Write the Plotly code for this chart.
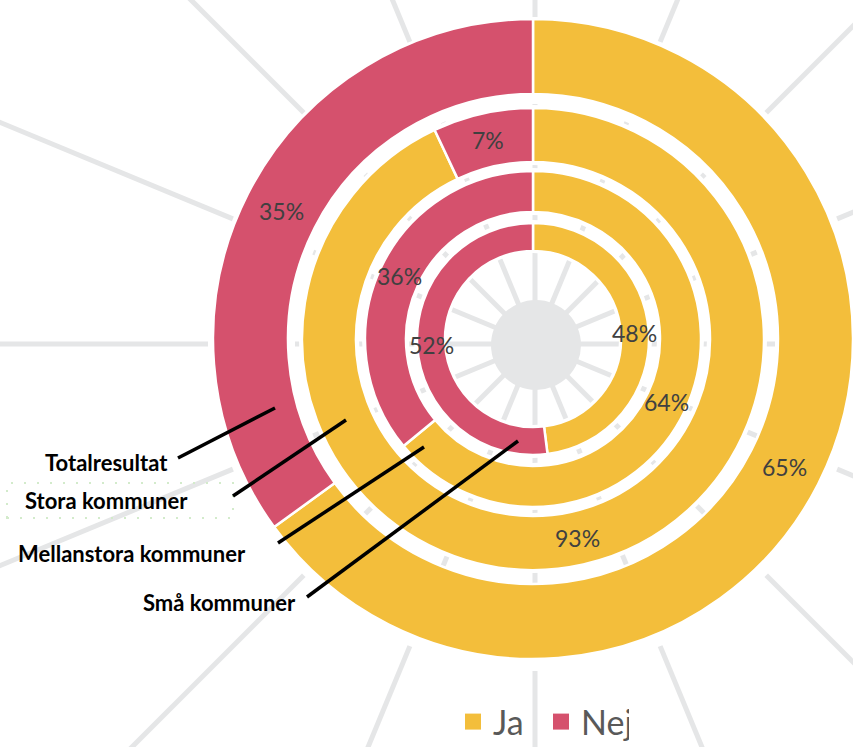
import numpy as np
import plotly.graph_objects as go

# ---- data ----
rings = ["Totalresultat", "Stora kommuner", "Mellanstora kommuner", "Små kommuner"]
categories = ["Ja", "Nej"]
ja = [65, 93, 64, 48]
nej = [35, 7, 36, 52]

# ---- style / geometry ----
W, H = 853, 747
YELLOW = "#F3BE3B"
PINK = "#D5516D"
SPOKE = "#E5E6E7"
TXT = "#404040"
FONT = "Lato"

cx, cy = 533, 339          # ring centre (px)
sx, sy = 535, 344          # spoke centre (px)
r_out = [320, 231, 168, 116]
r_in = [245, 177, 127, 88]
pad_out = [0, 3, 3, 3]
pad_in = [0, 3, 3, 2]


def px(x, y):
    return x / W, 1 - y / H


def dom(r):
    return dict(x=[(cx - r) / W, (cx + r) / W], y=[1 - (cy + r) / H, 1 - (cy - r) / H])


fig = go.Figure()

# white halos under the inner rings (creates the gaps over the spokes)
for i in range(1, 4):
    ro = r_out[i] + pad_out[i]
    ri = r_in[i] - pad_in[i]
    fig.add_trace(go.Pie(values=[1], labels=["halo"], marker=dict(colors=["white"]),
                         hole=ri / ro, domain=dom(ro), sort=False, textinfo="none",
                         hoverinfo="skip", showlegend=False))

# coloured rings
for i, name in enumerate(rings):
    fig.add_trace(go.Pie(
        name=name, labels=categories, values=[ja[i], nej[i]],
        marker=dict(colors=[YELLOW, PINK], line=dict(color="white", width=2.5)),
        hole=r_in[i] / r_out[i], domain=dom(r_out[i]),
        sort=False, direction="clockwise", rotation=0,
        textinfo="none", showlegend=False))

# percentage labels at slice mid-angle / ring mid-radius
annotations = []
for i in range(4):
    vals = [ja[i], nej[i]]
    tot = sum(vals)
    start = 0.0
    rm = (r_out[i] + r_in[i]) / 2
    for v in vals:
        mid = (start + v / 2) / tot * 2 * np.pi
        start += v
        x, y = px(cx + rm * np.sin(mid), cy - rm * np.cos(mid))
        annotations.append(dict(x=x, y=y, xref="paper", yref="paper", text=f"{v}%",
                                xanchor="center", yanchor="middle", showarrow=False,
                                font=dict(family=FONT, size=23, color=TXT)))

# ring name labels
lab_pos = [(170, 462), (190, 500), (248, 553), (298, 602)]
for name, (lx, ly) in zip(rings, lab_pos):
    x, y = px(lx, ly)
    annotations.append(dict(x=x, y=y, xref="paper", yref="paper", text=f"<b>{name}</b>",
                            showarrow=False, xanchor="right", yanchor="middle",
                            font=dict(family=FONT, size=22, color="black")))

shapes = []
# radial spokes
for k in range(16):
    th = np.deg2rad(k * 22.5)
    for a, b in [(0, 240), (327, 1400)]:
        x0, y0 = px(sx + a * np.sin(th), sy - a * np.cos(th))
        x1, y1 = px(sx + b * np.sin(th), sy - b * np.cos(th))
        shapes.append(dict(type="line", xref="paper", yref="paper", x0=x0, y0=y0, x1=x1, y1=y1,
                           line=dict(color=SPOKE, width=5), layer="below"))
# grey centre disc
gx0, gy0 = px(536 - 45, 345 - 45)
gx1, gy1 = px(536 + 45, 345 + 45)
shapes.append(dict(type="circle", xref="paper", yref="paper", x0=gx0, y0=gy1, x1=gx1, y1=gy0,
                   fillcolor=SPOKE, line=dict(width=0), layer="below"))

# dotted selection box around "Stora kommuner"
bx0, by0 = px(7, 483)
bx1, by1 = px(233, 518)
shapes.append(dict(type="rect", xref="paper", yref="paper", x0=bx0, y0=by1, x1=bx1, y1=by0,
                   line=dict(color="#D3EBCB", width=2, dash="2px,11px"), layer="below"))

# leader lines
leaders = [((178, 458), (275, 408)), ((233, 496), (346, 420)),
           ((278, 543), (424, 447)), ((307, 597), (518, 441))]
for (a, b) in leaders:
    x0, y0 = px(*a)
    x1, y1 = px(*b)
    shapes.append(dict(type="line", xref="paper", yref="paper", x0=x0, y0=y0, x1=x1, y1=y1,
                       line=dict(color="black", width=3.5), layer="above"))

# legend entries
for lab, col in zip(categories, [YELLOW, PINK]):
    fig.add_trace(go.Scatter(x=[None], y=[None], mode="markers", name=lab,
                             marker=dict(symbol="square", size=17, color=col)))

fig.update_layout(
    width=W, height=H, margin=dict(l=0, r=0, t=0, b=0, autoexpand=False),
    paper_bgcolor="white", plot_bgcolor="rgba(0,0,0,0)",
    xaxis=dict(visible=False), yaxis=dict(visible=False),
    shapes=shapes, annotations=annotations,
    showlegend=True,
    legend=dict(orientation="h", x=453 / W, xanchor="left", y=px(0, 722)[1], yanchor="middle",
                entrywidth=43, entrywidthmode="pixels",
                font=dict(family=FONT, size=34, color="#595959"), bgcolor="rgba(0,0,0,0)",
                itemsizing="trace"),
)

fig.write_html("out.html", config={"displayModeBar": False},
               post_script="document.body.style.margin='0';document.body.style.overflow='hidden';")
